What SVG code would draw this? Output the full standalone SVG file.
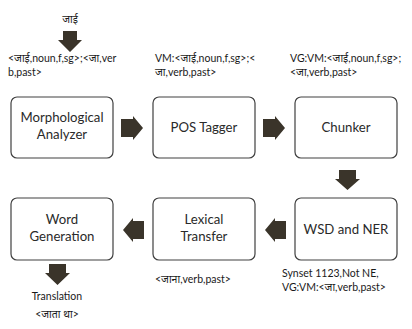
<svg xmlns="http://www.w3.org/2000/svg" width="412" height="329" viewBox="0 0 412 329">
<style>
.box{fill:#fff;stroke:#404040;stroke-width:1.2}
.lbl{font-family:Lato,"Open Sans","Noto Sans",sans-serif;font-size:13.2px;fill:#2a2a2a;text-anchor:middle}
.ann{font-family:Lato,"Open Sans","Noto Sans",sans-serif;font-size:10.5px;fill:#1a1a1a}
.arr{fill:#3a342a}
</style>
<rect width="412" height="329" fill="#fff"/>
<g id="connectors">
<path class="arr" d="M63,31 H77 V40 H82 L70,52 L58,40 H63 Z"/>
<path class="arr" d="M121,119 H133 V116 L143,128 L133,140 V137 H121 Z"/>
<path class="arr" d="M263,119 H275 V116 L285,128 L275,140 V137 H263 Z"/>
<path class="arr" d="M339,170 H356 V179 H360 L347.5,190 L335,179 H339 Z"/>
<path class="arr" d="M286,221 H275 V218 L265,230 L275,242 V239 H286 Z"/>
<path class="arr" d="M144,221 H133 V218 L123,230 L133,242 V239 H144 Z"/>
<path class="arr" d="M49,264 H66 V273 H70 L57.5,285 L45,273 H49 Z"/>
</g>
<g id="input">
<text class="ann" x="70" y="23" text-anchor="middle">जाई</text>
</g>
<g id="morph">
<rect class="box" x="11" y="97" width="102" height="61" rx="6"/>
<text class="lbl" x="62" y="122">Morphological</text>
<text class="lbl" x="62" y="139">Analyzer</text>
</g>
<g id="pos">
<rect class="box" x="153" y="97" width="102" height="61" rx="6"/>
<text class="lbl" x="204" y="132">POS Tagger</text>
</g>
<g id="chunker">
<rect class="box" x="295" y="97" width="102" height="61" rx="6"/>
<text class="lbl" x="346" y="132">Chunker</text>
</g>
<g id="wsd">
<rect class="box" x="295" y="198" width="102" height="62" rx="6"/>
<text class="lbl" x="346" y="234">WSD and NER</text>
</g>
<g id="lexical">
<rect class="box" x="153" y="198" width="102" height="62" rx="6"/>
<text class="lbl" x="204" y="224">Lexical</text>
<text class="lbl" x="204" y="241">Transfer</text>
</g>
<g id="wordgen">
<rect class="box" x="11" y="198" width="102" height="62" rx="6"/>
<text class="lbl" x="62" y="224">Word</text>
<text class="lbl" x="62" y="241">Generation</text>
</g>
<g id="annotations">
<text class="ann" x="8" y="62">&lt;जाई,noun,f,sg&gt;;&lt;जा,ver</text>
<text class="ann" x="8" y="76">b,past&gt;</text>
<text class="ann" x="155" y="62">VM:&lt;जाई,noun,f,sg&gt;;&lt;</text>
<text class="ann" x="155" y="76">जा,verb,past&gt;</text>
<text class="ann" x="290" y="62">VG:VM:&lt;जाई,noun,f,sg&gt;;</text>
<text class="ann" x="290" y="76">&lt;जा,verb,past&gt;</text>
<text class="ann" x="155" y="283">&lt;जाना,verb,past&gt;</text>
<text class="ann" x="282" y="277">Synset 1123,Not NE,</text>
<text class="ann" x="282" y="291">VG:VM:&lt;जा,verb,past&gt;</text>
<text class="ann" x="57" y="300" text-anchor="middle">Translation</text>
<text class="ann" x="57" y="318" text-anchor="middle">&lt;जाता था&gt;</text>
</g>
</svg>
